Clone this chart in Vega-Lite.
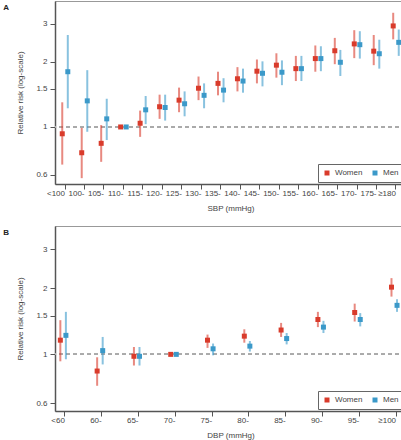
{
  "$schema": "https://vega.github.io/schema/vega-lite/v6.json",
  "padding": {"left": 2, "top": 0, "right": 0, "bottom": 0},
  "background": "white",
  "config": {
    "font": "Liberation Sans",
    "view": {"stroke": "#999", "strokeWidth": 1},
    "axis": {"grid": false, "labelFontSize": 8, "titleFontSize": 8, "titleFontWeight": "normal", "labelColor": "#444", "titleColor": "#444", "domainColor": "#555", "domainWidth": 1.5, "tickColor": "#555", "tickSize": 5, "labelFont": "Liberation Sans", "titleFont": "Liberation Sans"},
    "legend": {"orient": "bottom-right", "direction": "horizontal", "strokeColor": "#666", "padding": 5, "offset": 2, "symbolType": "square", "symbolSize": 25, "labelFontSize": 8, "labelColor": "#444", "columnPadding": 8, "symbolStrokeWidth": 0, "symbolOpacity": 1, "cornerRadius": 0, "fillColor": "white"},
    "title": {"fontSize": 8, "fontWeight": "bold", "orient": "left", "anchor": "end", "angle": 0, "frame": "group", "offset": 2, "color": "#222", "baseline": "top", "align": "right", "dy": 3}
  },
  "datasets": {
    "sbp": [
      {"cat": "<100", "sex": "Women", "rr": 0.93, "lo": 0.67, "hi": 1.30},
      {"cat": "<100", "sex": "Men", "rr": 1.80, "lo": 1.22, "hi": 2.66},
      {"cat": "100-", "sex": "Women", "rr": 0.76, "lo": 0.58, "hi": 0.99},
      {"cat": "100-", "sex": "Men", "rr": 1.32, "lo": 0.95, "hi": 1.83},
      {"cat": "105-", "sex": "Women", "rr": 0.84, "lo": 0.69, "hi": 1.02},
      {"cat": "105-", "sex": "Men", "rr": 1.09, "lo": 0.87, "hi": 1.35},
      {"cat": "110-", "sex": "Women", "rr": 1.0, "lo": null, "hi": null},
      {"cat": "110-", "sex": "Men", "rr": 1.0, "lo": null, "hi": null},
      {"cat": "115-", "sex": "Women", "rr": 1.04, "lo": 0.90, "hi": 1.19},
      {"cat": "115-", "sex": "Men", "rr": 1.20, "lo": 1.03, "hi": 1.39},
      {"cat": "120-", "sex": "Women", "rr": 1.24, "lo": 1.09, "hi": 1.41},
      {"cat": "120-", "sex": "Men", "rr": 1.23, "lo": 1.07, "hi": 1.41},
      {"cat": "125-", "sex": "Women", "rr": 1.33, "lo": 1.17, "hi": 1.52},
      {"cat": "125-", "sex": "Men", "rr": 1.28, "lo": 1.12, "hi": 1.46},
      {"cat": "130-", "sex": "Women", "rr": 1.51, "lo": 1.33, "hi": 1.71},
      {"cat": "130-", "sex": "Men", "rr": 1.40, "lo": 1.22, "hi": 1.59},
      {"cat": "135-", "sex": "Women", "rr": 1.59, "lo": 1.40, "hi": 1.80},
      {"cat": "135-", "sex": "Men", "rr": 1.48, "lo": 1.30, "hi": 1.68},
      {"cat": "140-", "sex": "Women", "rr": 1.67, "lo": 1.46, "hi": 1.89},
      {"cat": "140-", "sex": "Men", "rr": 1.63, "lo": 1.44, "hi": 1.86},
      {"cat": "145-", "sex": "Women", "rr": 1.81, "lo": 1.59, "hi": 2.05},
      {"cat": "145-", "sex": "Men", "rr": 1.77, "lo": 1.54, "hi": 2.01},
      {"cat": "150-", "sex": "Women", "rr": 1.93, "lo": 1.69, "hi": 2.19},
      {"cat": "150-", "sex": "Men", "rr": 1.79, "lo": 1.56, "hi": 2.03},
      {"cat": "155-", "sex": "Women", "rr": 1.86, "lo": 1.63, "hi": 2.13},
      {"cat": "155-", "sex": "Men", "rr": 1.86, "lo": 1.63, "hi": 2.13},
      {"cat": "160-", "sex": "Women", "rr": 2.07, "lo": 1.80, "hi": 2.38},
      {"cat": "160-", "sex": "Men", "rr": 2.07, "lo": 1.81, "hi": 2.36},
      {"cat": "165-", "sex": "Women", "rr": 2.25, "lo": 1.95, "hi": 2.58},
      {"cat": "165-", "sex": "Men", "rr": 1.99, "lo": 1.72, "hi": 2.27},
      {"cat": "170-", "sex": "Women", "rr": 2.42, "lo": 2.08, "hi": 2.80},
      {"cat": "170-", "sex": "Men", "rr": 2.40, "lo": 2.07, "hi": 2.77},
      {"cat": "175-", "sex": "Women", "rr": 2.24, "lo": 1.93, "hi": 2.66},
      {"cat": "175-", "sex": "Men", "rr": 2.18, "lo": 1.86, "hi": 2.53},
      {"cat": "≥180", "sex": "Women", "rr": 2.93, "lo": 2.54, "hi": 3.37},
      {"cat": "≥180", "sex": "Men", "rr": 2.46, "lo": 2.13, "hi": 2.82}
    ],
    "dbp": [
      {"cat": "<60", "sex": "Women", "rr": 1.16, "lo": 0.93, "hi": 1.43},
      {"cat": "<60", "sex": "Men", "rr": 1.22, "lo": 0.95, "hi": 1.56},
      {"cat": "60-", "sex": "Women", "rr": 0.84, "lo": 0.72, "hi": 0.97},
      {"cat": "60-", "sex": "Men", "rr": 1.04, "lo": 0.90, "hi": 1.20},
      {"cat": "65-", "sex": "Women", "rr": 0.98, "lo": 0.89, "hi": 1.08},
      {"cat": "65-", "sex": "Men", "rr": 0.98, "lo": 0.89, "hi": 1.08},
      {"cat": "70-", "sex": "Women", "rr": 1.0, "lo": null, "hi": null},
      {"cat": "70-", "sex": "Men", "rr": 1.0, "lo": null, "hi": null},
      {"cat": "75-", "sex": "Women", "rr": 1.16, "lo": 1.07, "hi": 1.23},
      {"cat": "75-", "sex": "Men", "rr": 1.06, "lo": 0.99, "hi": 1.12},
      {"cat": "80-", "sex": "Women", "rr": 1.21, "lo": 1.13, "hi": 1.30},
      {"cat": "80-", "sex": "Men", "rr": 1.09, "lo": 1.03, "hi": 1.15},
      {"cat": "85-", "sex": "Women", "rr": 1.29, "lo": 1.20, "hi": 1.39},
      {"cat": "85-", "sex": "Men", "rr": 1.18, "lo": 1.11, "hi": 1.25},
      {"cat": "90-", "sex": "Women", "rr": 1.44, "lo": 1.33, "hi": 1.56},
      {"cat": "90-", "sex": "Men", "rr": 1.33, "lo": 1.25, "hi": 1.42},
      {"cat": "95-", "sex": "Women", "rr": 1.55, "lo": 1.41, "hi": 1.70},
      {"cat": "95-", "sex": "Men", "rr": 1.44, "lo": 1.34, "hi": 1.54},
      {"cat": "≥100", "sex": "Women", "rr": 2.02, "lo": 1.83, "hi": 2.22},
      {"cat": "≥100", "sex": "Men", "rr": 1.67, "lo": 1.56, "hi": 1.78}
    ]
  },
  "vconcat": [
    {
      "title": {"text": "A"},
      "width": 351,
      "height": 183,
      "data": {"name": "sbp"},
      "layer": [
        {
          "mark": {"type": "rule", "strokeDash": [4, 3], "color": "#aaa", "strokeWidth": 1.3},
          "encoding": {"y": {"datum": 1, "type": "quantitative"}}
        },
        {
          "mark": {"type": "rule", "strokeWidth": 2, "opacity": 0.6},
          "encoding": {
            "x": {"field": "cat", "type": "nominal", "sort": ["<100", "100-", "105-", "110-", "115-", "120-", "125-", "130-", "135-", "140-", "145-", "150-", "155-", "160-", "165-", "170-", "175-", "≥180"]},
            "xOffset": {"field": "sex", "type": "nominal", "sort": ["Women", "Men"]},
            "y": {"field": "lo", "type": "quantitative"},
            "y2": {"field": "hi"},
            "stroke": {"field": "sex", "type": "nominal", "legend": null, "scale": {"domain": ["Women", "Men"], "range": ["#d93b2b", "#3b99c9"]}}
          }
        },
        {
          "mark": {"type": "point", "shape": "square", "filled": true, "size": 25, "opacity": 1},
          "encoding": {
            "x": {"field": "cat", "type": "nominal", "sort": ["<100", "100-", "105-", "110-", "115-", "120-", "125-", "130-", "135-", "140-", "145-", "150-", "155-", "160-", "165-", "170-", "175-", "≥180"], "title": "SBP (mmHg)", "scale": {"type": "band", "paddingInner": 0.43, "paddingOuter": 0.23}, "axis": {"labelAngle": 0, "bandPosition": 0.5, "labelPadding": 4, "titlePadding": 7}},
            "xOffset": {"field": "sex", "type": "nominal", "sort": ["Women", "Men"], "scale": {"paddingInner": 0, "paddingOuter": 0}},
            "y": {"field": "rr", "type": "quantitative", "title": "Relative risk (log-scale)", "scale": {"type": "log", "domain": [0.545, 3.82], "nice": false, "zero": false}, "axis": {"values": [0.6, 1, 1.5, 2, 3], "labelPadding": 3, "titlePadding": 11}},
            "color": {"field": "sex", "type": "nominal", "title": null, "scale": {"domain": ["Women", "Men"], "range": ["#d93b2b", "#3b99c9"]}}
          }
        }
      ]
    },
    {
      "title": {"text": "B"},
      "width": 351,
      "height": 185,
      "data": {"name": "dbp"},
      "layer": [
        {
          "mark": {"type": "rule", "strokeDash": [4, 3], "color": "#aaa", "strokeWidth": 1.3},
          "encoding": {"y": {"datum": 1, "type": "quantitative"}}
        },
        {
          "mark": {"type": "rule", "strokeWidth": 2, "opacity": 0.6},
          "encoding": {
            "x": {"field": "cat", "type": "nominal", "sort": ["<60", "60-", "65-", "70-", "75-", "80-", "85-", "90-", "95-", "≥100"]},
            "xOffset": {"field": "sex", "type": "nominal", "sort": ["Women", "Men"]},
            "y": {"field": "lo", "type": "quantitative"},
            "y2": {"field": "hi"},
            "stroke": {"field": "sex", "type": "nominal", "legend": null, "scale": {"domain": ["Women", "Men"], "range": ["#d93b2b", "#3b99c9"]}}
          }
        },
        {
          "mark": {"type": "point", "shape": "square", "filled": true, "size": 25, "opacity": 1},
          "encoding": {
            "x": {"field": "cat", "type": "nominal", "sort": ["<60", "60-", "65-", "70-", "75-", "80-", "85-", "90-", "95-", "≥100"], "title": "DBP (mmHg)", "scale": {"type": "band", "paddingInner": 0.6, "paddingOuter": 0.07}, "axis": {"labelAngle": 0, "bandPosition": 0.5, "labelPadding": 4, "titlePadding": 7}},
            "xOffset": {"field": "sex", "type": "nominal", "sort": ["Women", "Men"], "scale": {"paddingInner": 0, "paddingOuter": 0}},
            "y": {"field": "rr", "type": "quantitative", "title": "Relative risk (log-scale)", "scale": {"type": "log", "domain": [0.553, 3.83], "nice": false, "zero": false}, "axis": {"values": [0.6, 1, 1.5, 2, 3], "labelPadding": 3, "titlePadding": 11}},
            "color": {"field": "sex", "type": "nominal", "title": null, "scale": {"domain": ["Women", "Men"], "range": ["#d93b2b", "#3b99c9"]}}
          }
        }
      ]
    }
  ],
  "spacing": 12,
  "resolve": {"scale": {"color": "independent"}, "legend": {"color": "independent"}}
}
